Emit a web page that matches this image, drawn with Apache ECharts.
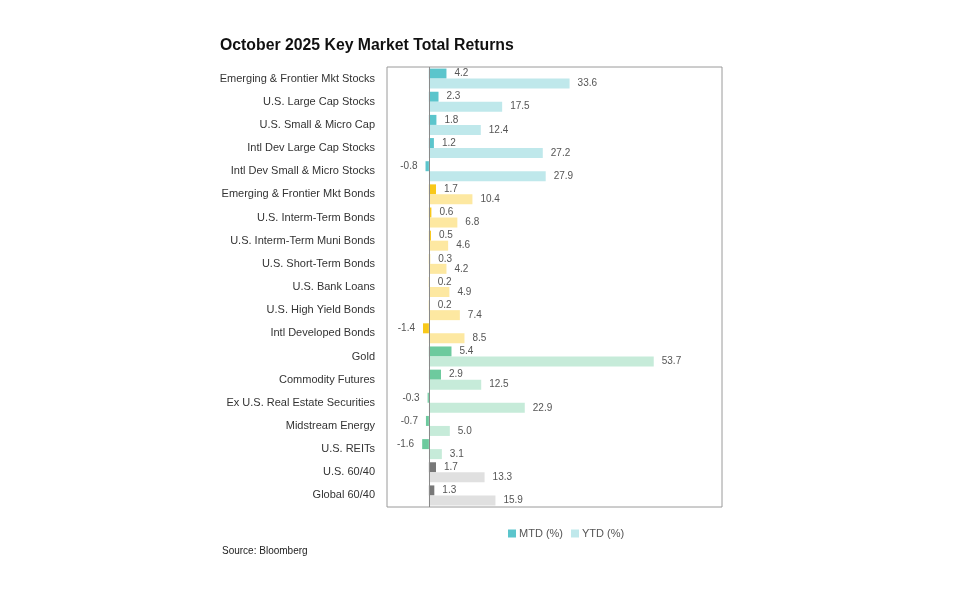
<!DOCTYPE html>
<html>
<head>
<meta charset="utf-8">
<script src="https://cdn.jsdelivr.net/npm/echarts@6/dist/echarts.min.js"></script>
<style>
html,body{margin:0;padding:0;background:#fff;}
#c{width:960px;height:595px;}
</style>
</head>
<body>
<div id="c"></div>
<script>
var categories = [
  'Emerging & Frontier Mkt Stocks','U.S. Large Cap Stocks','U.S. Small & Micro Cap','Intl Dev Large Cap Stocks','Intl Dev Small & Micro Stocks',
  'Emerging & Frontier Mkt Bonds','U.S. Interm-Term Bonds','U.S. Interm-Term Muni Bonds','U.S. Short-Term Bonds','U.S. Bank Loans','U.S. High Yield Bonds','Intl Developed Bonds',
  'Gold','Commodity Futures','Ex U.S. Real Estate Securities','Midstream Energy','U.S. REITs',
  'U.S. 60/40','Global 60/40'
];
var groups = ['stock','stock','stock','stock','stock','bond','bond','bond','bond','bond','bond','bond','real','real','real','real','real','mix','mix'];
var mtd = [4.2, 2.3, 1.8, 1.2, -0.8, 1.7, 0.6, 0.5, 0.3, 0.2, 0.2, -1.4, 5.4, 2.9, -0.3, -0.7, -1.6, 1.7, 1.3];
var ytd = [33.6, 17.5, 12.4, 27.2, 27.9, 10.4, 6.8, 4.6, 4.2, 4.9, 7.4, 8.5, 53.7, 12.5, 22.9, 5.0, 3.1, 13.3, 15.9];

var darkColors = {stock:'#5BC5CC', bond:'#F8C81A', real:'#6DCA9E', mix:'#787878'};
var lightColors = {stock:'#BFE8EB', bond:'#FDE8A1', real:'#C6EBD9', mix:'#E0E0E0'};

var FONT = "'Liberation Sans Narrow','Liberation Sans',Arial,sans-serif";

function items(vals, palette) {
  return vals.map(function (v, i) {
    return {
      value: v,
      itemStyle: {color: palette[groups[i]]},
      label: {position: v < 0 ? 'left' : 'right'}
    };
  });
}

var labelCommon = {
  show: true,
  distance: 8,
  fontFamily: FONT,
  fontSize: 10,
  color: '#555',
  formatter: function (p) { return p.value.toFixed(1); }
};

var chart = echarts.init(document.getElementById('c'), null, {renderer: 'canvas'});
chart.setOption({
  animation: false,
  backgroundColor: '#fff',
  title: {
    text: 'October 2025 Key Market Total Returns',
    left: 220, top: 38, padding: 0,
    textStyle: {fontFamily: "'Liberation Sans',Arial,sans-serif", fontSize: 15.8, fontWeight: 'bold', color: '#111'}
  },
  graphic: [{
    type: 'text', left: 222, top: 546,
    style: {text: 'Source: Bloomberg', font: "10px 'Liberation Sans',Arial,sans-serif", fill: '#222'}
  }],
  legend: {
    data: ['MTD (%)', 'YTD (%)'],
    left: 503, top: 523,
    itemWidth: 8, itemHeight: 8, itemGap: 8,
    icon: 'rect',
    textStyle: {fontFamily: FONT, fontSize: 11, color: '#555', padding: [0, 0, 0, -2]}
  },
  grid: {
    left: 387, right: 238, top: 67, bottom: 88,
    show: true, borderColor: '#9a9a9a', borderWidth: 1, backgroundColor: 'transparent'
  },
  xAxis: {
    type: 'value', min: -10, max: 70,
    axisLabel: {show: false}, axisLine: {show: false}, axisTick: {show: false},
    splitLine: {show: false}
  },
  yAxis: {
    type: 'category', data: categories, inverse: true,
    axisLine: {show: false, onZero: false},
    axisTick: {show: false},
    axisLabel: {margin: 12, fontFamily: FONT, fontSize: 11, color: '#333'}
  },
  series: [{
    name: 'MTD (%)', type: 'bar', barWidth: 10, barGap: '0%',
    color: '#5BC5CC',
    data: items(mtd, darkColors),
    label: labelCommon,
    markLine: {
      silent: true, symbol: 'none', animation: false,
      label: {show: false},
      lineStyle: {color: '#8a8a8a', type: 'solid', width: 1},
      data: [{xAxis: 0}]
    }
  }, {
    name: 'YTD (%)', type: 'bar', barWidth: 10, barGap: '0%',
    color: '#BFE8EB',
    data: items(ytd, lightColors),
    label: labelCommon
  }]
});
</script>
</body>
</html>
